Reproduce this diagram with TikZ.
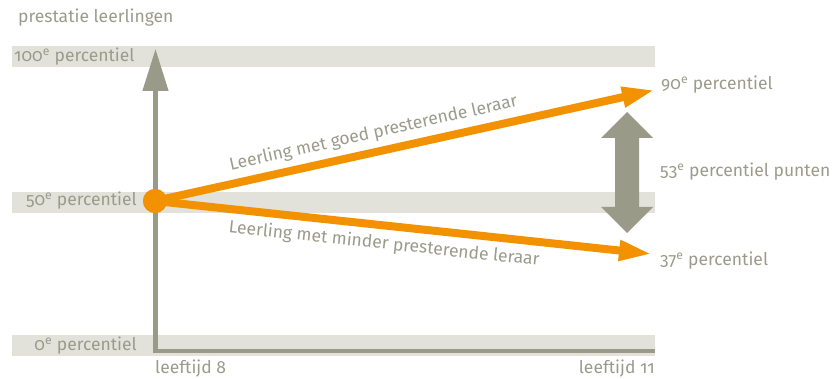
\documentclass[tikz,border=0pt]{standalone}
\usepackage{fontspec}
\setmainfont[RawFeature=+onum]{Fira Sans}
\usetikzlibrary{arrows.meta}
\definecolor{txtgray}{HTML}{9B9B8C}
\definecolor{axisgray}{HTML}{9A9A88}
\definecolor{bandgray}{HTML}{E2E2DA}
\definecolor{orng}{HTML}{F39200}
\tikzset{
  lbl/.style={text=txtgray, font=\fontsize{17.5}{19}\selectfont, inner sep=0pt},
  band/.style={fill=bandgray, draw=none},
  axisline/.style={draw=axisgray, line width=4.5pt},
  orangearrow/.style={draw=orng, line width=8pt, -{Triangle[length=33pt,width=19pt]}},
}
\newcommand{\pe}{\textsuperscript{e}}
\begin{document}
\begin{tikzpicture}[x=1pt,y=-1pt]
\useasboundingbox (0,0) rectangle (835,379);
% bands
\fill[band] (12,46) rectangle (655,67);
\fill[band] (12,192) rectangle (655,213);
\fill[band] (12,335) rectangle (655,356);
% axes
\coordinate (origin) at (155.5,353);
\coordinate (ytop) at (155.5,49);
\coordinate (xend) at (655,351);
\draw[axisline, -{Triangle[length=42pt,width=25pt]}] (origin) -- (ytop);
\draw[axisline] (155.5,351) -- (xend);
% labels
\node[lbl, anchor=west] (ylab) at (18,18) {prestatie leerlingen};
\node[lbl, anchor=west] (p100) at (14,57) {100\pe{} percentiel};
\node[lbl, anchor=east] (p50) at (137,201) {50\pe{} percentiel};
\node[lbl, anchor=east] (p0) at (137,346) {0\pe{} percentiel};
\node[lbl, anchor=west] (age8) at (155,369) {leeftijd 8};
\node[lbl, anchor=east] (age11) at (655,369) {leeftijd 11};
% orange arrows
\node[circle, fill=orng, minimum size=24pt, inner sep=0pt] (dot) at (155,201) {};
\coordinate (top) at (655,90);
\coordinate (low) at (652,254);
\draw[orangearrow] (dot.center) -- (top) node[lbl, pos=0.445, sloped, above=6pt] (lblgood) {Leerling met goed presterende leraar};
\draw[orangearrow] (dot.center) -- (low) node[lbl, pos=0.465, sloped, below=6pt] (lblless) {Leerling met minder presterende leraar};
\node[circle, fill=orng, minimum size=24pt, inner sep=0pt] at (dot) {};
% double arrow
\fill[axisgray] (627,112) -- (653,138) -- (639,138) -- (639,207) -- (653,207) -- (627,233) -- (601,207) -- (615,207) -- (615,138) -- (601,138) -- cycle;
% right labels
\node[lbl, anchor=west] (p90) at (661,85) {90\pe{} percentiel};
\node[lbl, anchor=west] (p53) at (660,172) {53\pe{} percentiel punten};
\node[lbl, anchor=west] (p37) at (660,261) {37\pe{} percentiel};
\end{tikzpicture}
\end{document}
